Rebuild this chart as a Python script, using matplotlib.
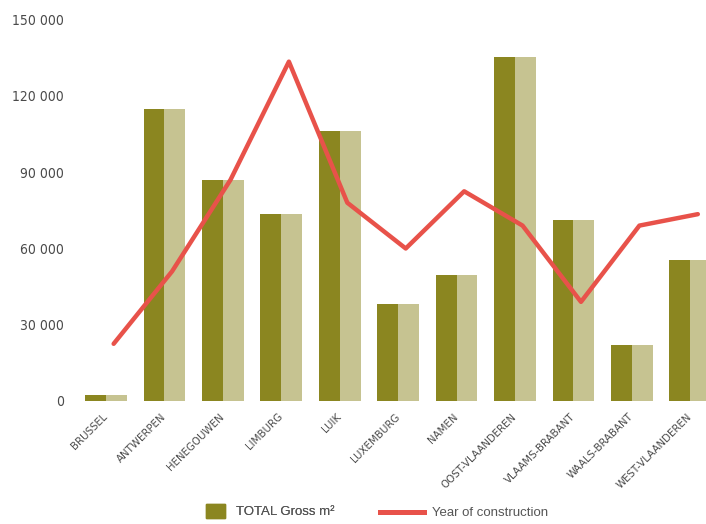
import matplotlib
matplotlib.use("Agg")
import matplotlib.pyplot as plt
from matplotlib.patches import Patch
from matplotlib.lines import Line2D
import numpy as np

provinces = ["BRUSSEL", "ANTWERPEN", "HENEGOUWEN", "LIMBURG", "LUIK", "LUXEMBURG",
             "NAMEN", "OOST-VLAANDEREN", "VLAAMS-BRABANT", "WAALS-BRABANT",
             "WEST-VLAANDEREN"]
gross_m2 = [2400, 115000, 87000, 73600, 106300, 38200, 49600, 135200, 71200, 22000, 55500]
year_built = [1915, 1934, 1958, 1989, 1952, 1940, 1955, 1946, 1926, 1946, 1949]
y_ticks = [0, 30000, 60000, 90000, 120000, 150000]

dark = "#8b8620"
light = "#c6c391"
red = "#e8524a"
grey = "#4a4a4a"

fig = plt.figure(figsize=(7.06, 5.24), dpi=100)
ax = fig.add_axes([71 / 706, 1 - 401 / 524, 1 - 71 / 706, (401 - 19.7) / 524])

x = np.arange(len(provinces))
half = 0.357
# two-tone bars: dark left half, light right half
ax.bar(x - half, gross_m2, width=half, align="edge", color=dark, linewidth=0)
ax.bar(x, gross_m2, width=half, align="edge", color=light, linewidth=0)

ax.set_xlim(-0.6, 10.27)
ax.set_ylim(0, 150000)
ax.set_yticks(y_ticks)
ax.set_yticklabels([f"{v:,}".replace(",", " ") for v in y_ticks],
                   family="DejaVu Sans", stretch="condensed", fontsize=10, color=grey)
ax.set_xticks(x)
ax.set_xticklabels(provinces, rotation=45, ha="right", va="center",
                   rotation_mode="anchor", family="DejaVu Sans", stretch="condensed",
                   fontsize=8.2, color=grey)
ax.tick_params(axis="both", length=0)
ax.tick_params(axis="y", pad=5)
ax.tick_params(axis="x", pad=10)
for lbl in ax.get_yticklabels():
    lbl.set_va("center_baseline")
for s in ax.spines.values():
    s.set_visible(False)

# year of construction on a hidden secondary axis
ax2 = ax.twinx()
ax2.plot(x + 0.13, year_built, color=red, linewidth=3.2, solid_capstyle="round")
ax2.set_ylim(1900, 2000)
ax2.axis("off")

leg1 = fig.legend(handles=[Patch(color=dark)], labels=["TOTAL Gross m²"],
                  loc="center left", bbox_to_anchor=(206 / 706, 1 - 511 / 524),
                  frameon=False, borderpad=0, borderaxespad=0,
                  handlelength=1.44, handleheight=1.36, handletextpad=0.8,
                  prop={"family": "Liberation Sans", "size": 9.5}, labelcolor="#555555")
leg2 = fig.legend(handles=[Line2D([], [], color=red, linewidth=3.6)],
                  labels=["Year of construction"],
                  loc="center left", bbox_to_anchor=(380 / 706, 1 - 513 / 524),
                  frameon=False, borderpad=0, borderaxespad=0,
                  handlelength=3.3, handletextpad=0.65,
                  prop={"family": "Liberation Sans", "size": 9.5}, labelcolor="#555555")
fig.add_artist(leg1)

fig.savefig("out.png", dpi=100)
